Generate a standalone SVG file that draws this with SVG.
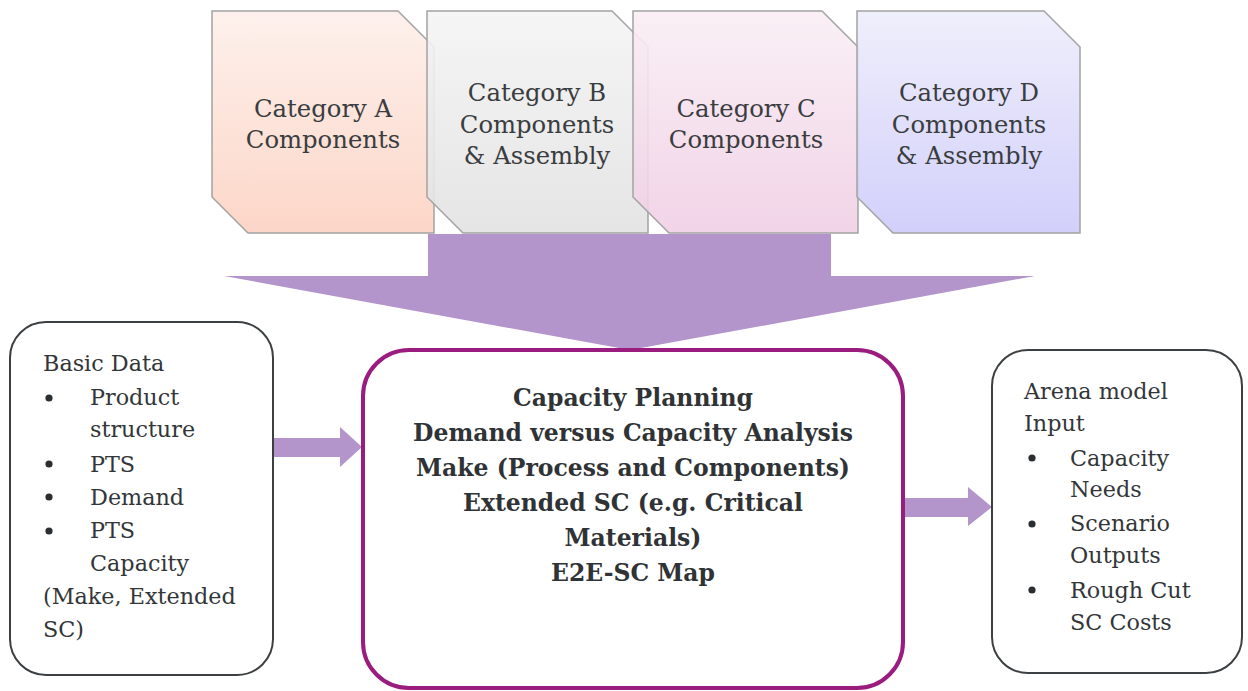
<svg xmlns="http://www.w3.org/2000/svg" width="1248" height="691" viewBox="0 0 1248 691">
<defs>
<linearGradient id="gA" x1="0" y1="0" x2="0" y2="1"><stop offset="0" stop-color="#fdefea"/><stop offset="1" stop-color="#fcd2c2"/></linearGradient>
<linearGradient id="gB" x1="0" y1="0" x2="0" y2="1"><stop offset="0" stop-color="#f4f4f4"/><stop offset="1" stop-color="#e2e2e2"/></linearGradient>
<linearGradient id="gC" x1="0" y1="0" x2="0" y2="1"><stop offset="0" stop-color="#f9eef4"/><stop offset="1" stop-color="#f0cfe5"/></linearGradient>
<linearGradient id="gD" x1="0" y1="0" x2="0" y2="1"><stop offset="0" stop-color="#eeedfb"/><stop offset="1" stop-color="#cdcbfa"/></linearGradient>
</defs>
<style>
.cat{stroke:#a3a3a3;stroke-width:1.5;fill-opacity:0.9}
.ct{font-family:'DejaVu Serif',serif;font-size:24.3px;fill:#3a3d40;text-anchor:middle}
.box{fill:#fff;stroke:#3c4043;stroke-width:2}
.main{fill:#fff;stroke:#9b1c7f;stroke-width:4}
.t{font-family:'DejaVu Serif',serif;font-size:22.3px;fill:#333639}
.mt{font-family:'DejaVu Serif',serif;font-size:23.5px;font-weight:bold;fill:#303336;text-anchor:middle}
.arr{fill:#b395cc}
.dot{fill:#2b2e31}
</style>
<rect width="1248" height="691" fill="#fff"/>
<g id="catA">
<path class="cat" fill="url(#gA)" d="M212,11 H398 L434,47 V233 H248 L212,197 Z"/>
<text class="ct" x="323" y="117">Category A</text>
<text class="ct" x="323" y="148">Components</text>
</g>
<g id="catB">
<path class="cat" fill="url(#gB)" d="M427,11 H612 L648,47 V233 H463 L427,197 Z"/>
<text class="ct" x="537" y="101">Category B</text>
<text class="ct" x="537" y="133">Components</text>
<text class="ct" x="537" y="164">&amp; Assembly</text>
</g>
<g id="catC">
<path class="cat" fill="url(#gC)" d="M633,11 H822 L858,47 V233 H669 L633,197 Z"/>
<text class="ct" x="746" y="117">Category C</text>
<text class="ct" x="746" y="148">Components</text>
</g>
<g id="catD">
<path class="cat" fill="url(#gD)" d="M857,11 H1044 L1080,47 V233 H893 L857,197 Z"/>
<text class="ct" x="969" y="101">Category D</text>
<text class="ct" x="969" y="133">Components</text>
<text class="ct" x="969" y="164">&amp; Assembly</text>
</g>
<g id="connectors">
<path class="arr" d="M428,234 H831 V276 H1035 L630,350 L224,276 H428 Z"/>
<path class="arr" d="M273,438 H340 V427 L362,447 L340,467 V457 H273 Z"/>
<path class="arr" d="M903,498 H968 V487 L992,507 L968,526 V517 H903 Z"/>
</g>
<g id="basic">
<rect class="box" x="10" y="322" width="263" height="353" rx="36"/>
<text class="t" x="43" y="371">Basic Data</text>
<circle class="dot" cx="49" cy="398" r="3.6"/>
<text class="t" x="90" y="405">Product</text>
<text class="t" x="90" y="437">structure</text>
<circle class="dot" cx="49" cy="464" r="3.6"/>
<text class="t" x="90" y="472">PTS</text>
<circle class="dot" cx="49" cy="497" r="3.6"/>
<text class="t" x="90" y="505">Demand</text>
<circle class="dot" cx="49" cy="531" r="3.6"/>
<text class="t" x="90" y="538">PTS</text>
<text class="t" x="90" y="571">Capacity</text>
<text class="t" x="43" y="604">(Make, Extended</text>
<text class="t" x="43" y="637">SC)</text>
</g>
<g id="capacity">
<rect class="main" x="363" y="350" width="540" height="338" rx="46"/>
<text class="mt" x="633" y="406">Capacity Planning</text>
<text class="mt" x="633" y="441">Demand versus Capacity Analysis</text>
<text class="mt" x="633" y="476">Make (Process and Components)</text>
<text class="mt" x="633" y="511">Extended SC (e.g. Critical</text>
<text class="mt" x="633" y="546">Materials)</text>
<text class="mt" x="633" y="581">E2E-SC Map</text>
</g>
<g id="arena">
<rect class="box" x="992" y="350" width="250" height="323" rx="36"/>
<text class="t" x="1024" y="399">Arena model</text>
<text class="t" x="1024" y="431">Input</text>
<circle class="dot" cx="1032" cy="458" r="3.6"/>
<text class="t" x="1070" y="466">Capacity</text>
<text class="t" x="1070" y="497">Needs</text>
<circle class="dot" cx="1032" cy="524" r="3.6"/>
<text class="t" x="1070" y="531">Scenario</text>
<text class="t" x="1070" y="563">Outputs</text>
<circle class="dot" cx="1032" cy="590" r="3.6"/>
<text class="t" x="1070" y="598">Rough Cut</text>
<text class="t" x="1070" y="630">SC Costs</text>
</g>
</svg>
